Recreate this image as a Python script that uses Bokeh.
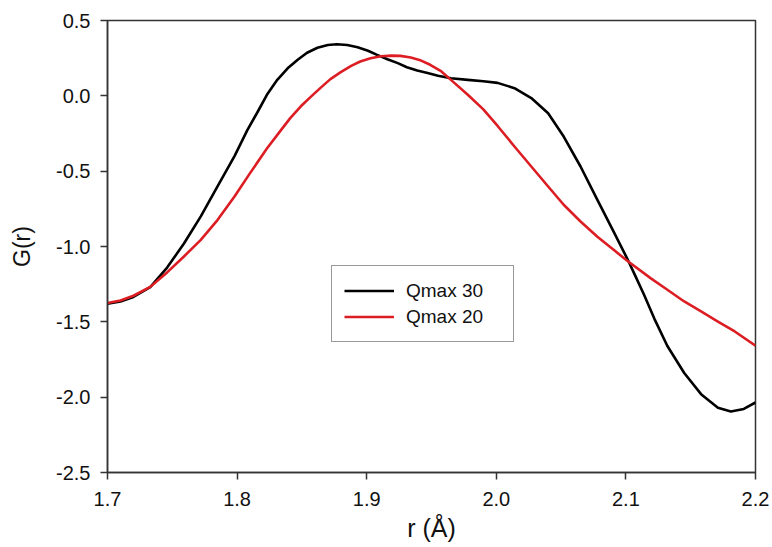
from bokeh.plotting import figure
from bokeh.models import Range1d, FixedTicker, Legend, LegendItem
from bokeh.embed import file_html
from bokeh.resources import INLINE

# ---- data ----
r_q30 = [1.700, 1.710, 1.720, 1.733, 1.746, 1.759, 1.772, 1.785, 1.798, 1.808,
         1.816, 1.823, 1.831, 1.839, 1.847, 1.854, 1.862, 1.870, 1.877, 1.885,
         1.893, 1.901, 1.908, 1.916, 1.924, 1.931, 1.939, 1.947, 1.955, 1.965,
         1.978, 1.990, 2.001, 2.014, 2.027, 2.040, 2.052, 2.065, 2.078, 2.091,
         2.101, 2.107, 2.114, 2.122, 2.132, 2.145, 2.158, 2.171, 2.181, 2.191,
         2.200]
g_q30 = [-1.380, -1.365, -1.335, -1.270, -1.140, -0.980, -0.800, -0.600, -0.400, -0.226,
         -0.104, 0.007, 0.106, 0.183, 0.241, 0.286, 0.319, 0.337, 0.342, 0.337,
         0.322, 0.299, 0.272, 0.243, 0.217, 0.190, 0.168, 0.151, 0.133, 0.117,
         0.106, 0.097, 0.086, 0.051, -0.015, -0.115, -0.270, -0.469, -0.690, -0.910,
         -1.080, -1.190, -1.320, -1.480, -1.660, -1.840, -1.980, -2.070, -2.095, -2.078,
         -2.035]

r_q20 = [1.700, 1.710, 1.720, 1.733, 1.746, 1.759, 1.772, 1.785, 1.798, 1.810,
         1.823, 1.834, 1.841, 1.849, 1.857, 1.865, 1.872, 1.880, 1.888, 1.895,
         1.903, 1.911, 1.919, 1.926, 1.934, 1.942, 1.949, 1.957, 1.965, 1.978,
         1.990, 2.001, 2.014, 2.027, 2.040, 2.052, 2.065, 2.078, 2.091, 2.101,
         2.119, 2.132, 2.145, 2.158, 2.171, 2.184, 2.200]
g_q20 = [-1.375, -1.358, -1.327, -1.268, -1.172, -1.066, -0.956, -0.823, -0.668, -0.513,
         -0.350, -0.226, -0.148, -0.071, -0.005, 0.058, 0.111, 0.157, 0.199, 0.228,
         0.250, 0.263, 0.267, 0.265, 0.254, 0.234, 0.206, 0.166, 0.106, 0.007,
         -0.090, -0.200, -0.336, -0.469, -0.602, -0.723, -0.834, -0.935, -1.025, -1.095,
         -1.210, -1.287, -1.365, -1.431, -1.498, -1.564, -1.659]

series_labels = ["Qmax 30", "Qmax 20"]
x_ticks = [1.7, 1.8, 1.9, 2.0, 2.1, 2.2]
x_tick_labels = ["1.7", "1.8", "1.9", "2.0", "2.1", "2.2"]
y_ticks = [-2.5, -2.0, -1.5, -1.0, -0.5, 0.0, 0.5]
y_tick_labels = ["-2.5", "-2.0", "-1.5", "-1.0", "-0.5", "0.0", "0.5"]

FONT = "Liberation Sans"
AXIS_COL = "#333333"
TEXT_COL = "#111111"

p = figure(width=772, height=547, output_backend="svg", toolbar_location=None,
           x_range=Range1d(1.7, 2.2), y_range=Range1d(-2.5, 0.5),
           min_border_left=107, min_border_right=17, min_border_top=20, min_border_bottom=75)

p.xgrid.visible = False
p.ygrid.visible = False
p.background_fill_color = "white"
p.border_fill_color = "white"
p.outline_line_color = AXIS_COL
p.outline_line_width = 1.5

l1 = p.line(r_q30, g_q30, line_color="black", line_width=2.6, line_join="round")
l2 = p.line(r_q20, g_q20, line_color="#dc1e24", line_width=2.6, line_join="round")

for ax, ticks, labels in ((p.xaxis[0], x_ticks, x_tick_labels), (p.yaxis[0], y_ticks, y_tick_labels)):
    ax.ticker = FixedTicker(ticks=ticks)
    ax.major_label_overrides = {t: l for t, l in zip(ticks, labels)}
    ax.minor_tick_line_color = None
    ax.major_tick_in = 0
    ax.major_tick_out = 7
    ax.major_tick_line_color = AXIS_COL
    ax.major_tick_line_width = 1.5
    ax.axis_line_color = AXIS_COL
    ax.axis_line_width = 1.5
    ax.major_label_text_font = FONT
    ax.major_label_text_font_size = "20px"
    ax.major_label_text_color = TEXT_COL
    ax.axis_label_text_font = FONT
    ax.axis_label_text_font_style = "normal"
    ax.axis_label_text_color = TEXT_COL

p.xaxis[0].axis_label = "r (Å)"
p.yaxis[0].axis_label = "G(r)"
p.xaxis[0].axis_label_text_font_size = "25px"
p.yaxis[0].axis_label_text_font_size = "23px"
p.xaxis[0].major_label_standoff = 12
p.xaxis[0].axis_label_standoff = 5
p.yaxis[0].major_label_standoff = 10
p.yaxis[0].axis_label_standoff = 18

legend = Legend(items=[LegendItem(label=series_labels[0], renderers=[l1]),
                       LegendItem(label=series_labels[1], renderers=[l2])],
                location=(224, 130))
legend.label_text_font = FONT
legend.label_text_font_size = "19px"
legend.label_text_color = TEXT_COL
legend.border_line_color = AXIS_COL
legend.border_line_width = 1.3
legend.background_fill_alpha = 1.0
legend.padding = 12
legend.margin = 0
legend.spacing = 1
legend.glyph_width = 50
legend.glyph_height = 25
legend.label_height = 25
legend.label_standoff = 12
legend.label_width = 95
p.add_layout(legend, "center")

open("out.html", "w").write(file_html(p, INLINE))
